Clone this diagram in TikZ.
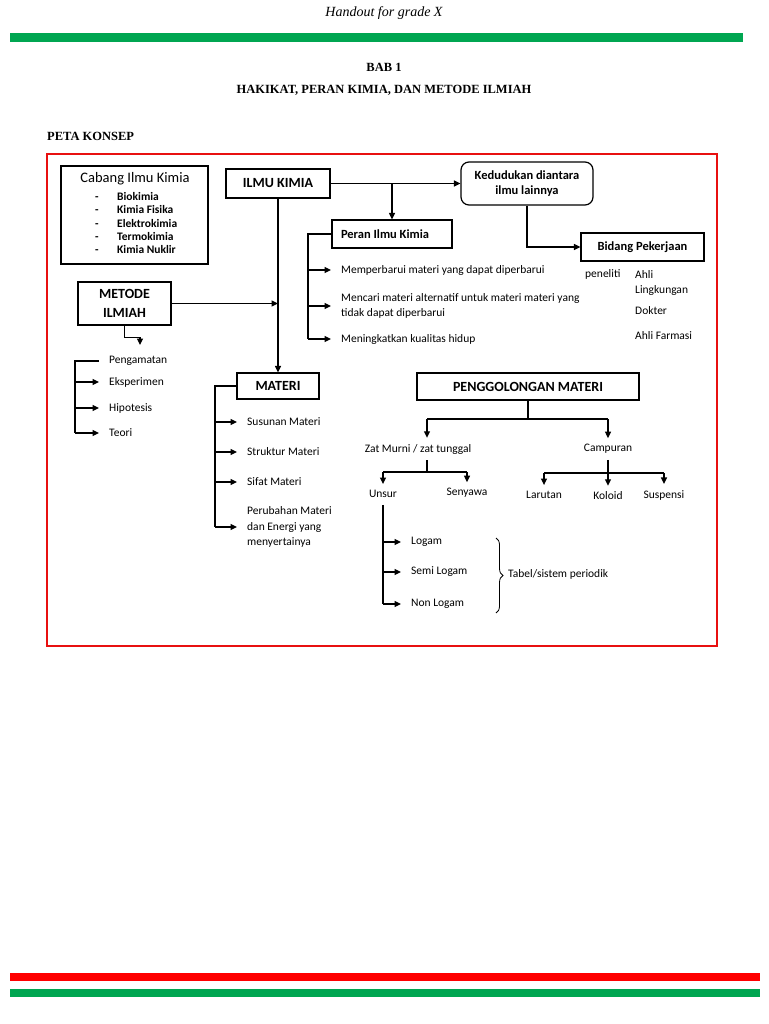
\documentclass[tikz,border=0pt]{standalone}
\usepackage{fontspec}
\setmainfont{Carlito}
\newfontfamily\headfont{Liberation Serif}
\usepackage{tikz}
\usetikzlibrary{arrows.meta, positioning, calc, decorations.pathreplacing}
\definecolor{barred}{RGB}{255,0,0}
\definecolor{bargreen}{RGB}{0,166,81}
\definecolor{framered}{RGB}{232,16,16}

\begin{document}
\begin{tikzpicture}[
    x=1pt, y=-1pt,
    box/.style={draw, line width=1.2pt, inner sep=0pt, font=\bfseries\fontsize{14}{19}\selectfont, align=center},
    subbox/.style={draw, line width=1.2pt, inner sep=0pt, font=\bfseries\fontsize{12.5}{15}\selectfont, align=center},
    item/.style={anchor=west, inner xsep=10pt, inner ysep=1pt, font=\fontsize{11.5}{15.5}\selectfont, align=left},
    txt/.style={inner sep=1pt, font=\fontsize{11.5}{15.5}\selectfont, align=left},
    head/.style={font=\headfont\bfseries\fontsize{12.5}{15}\selectfont},
    flow/.style={-{Triangle[length=6.5pt, width=6pt]}, line width=1.2pt},
    drop/.style={flow, shorten >=5pt},
    link/.style={line width=1.2pt}
]
    \useasboundingbox (0,0) rectangle (768,1024);

    % Page header
    \node[font=\headfont\itshape\fontsize{14}{16}\selectfont] (handout) at (384,13) {Handout for grade X};
    \fill[bargreen] (10,33) rectangle (743,42);
    \node[head] (bab) at (384,67) {BAB 1};
    \node[head] (judul) at (384,90) {HAKIKAT, PERAN KIMIA, DAN METODE ILMIAH};
    \node[head, anchor=west, inner sep=0pt] (peta) at (47,136) {PETA KONSEP};
    \draw[framered, line width=2.5pt] (47,154) rectangle (717,646);

    % Cabang ilmu kimia
    \node[draw, line width=1.2pt, minimum width=147pt, minimum height=98pt] (cabang) at (134.5,215) {};
    \node[txt, font=\fontsize{14.5}{16}\selectfont] (cabangjudul) at (135,179) {Cabang Ilmu Kimia};
    \foreach \nama [count=\i] in {Biokimia, Kimia Fisika, Elektrokimia, Termokimia, Kimia Nuklir} {
        \node[txt, anchor=base, font=\bfseries\fontsize{11.5}{13}\selectfont] (strip\i) at (97,187.5+13.25*\i) {-};
        \node[txt, anchor=base west, font=\bfseries\fontsize{11.5}{13}\selectfont] (cabang\i) at (116,187.5+13.25*\i) {\nama};
    }

    % Ilmu kimia dan kedudukannya
    \node[box, minimum width=104pt, minimum height=29pt] (ilmu) at (278,183.5) {ILMU KIMIA};
    \node[subbox, rounded corners=8pt, minimum width=132pt, minimum height=43pt] (kedudukan) at (527,183.5) {Kedudukan diantara\\ilmu lainnya};
    \node[subbox, minimum height=28pt, text width=102pt, inner xsep=9pt, align=flush left] (peran) at (392,234) {Peran Ilmu Kimia};
    \node[subbox, minimum width=123pt, minimum height=28pt] (bidang) at (642.5,247) {Bidang Pekerjaan};

    \draw[flow] (ilmu.east) -- (kedudukan.west);
    \draw[flow] (ilmu.east -| peran.north) -- (peran.north);
    \draw[flow] (kedudukan.south) |- (bidang.west);

    % Bidang pekerjaan
    \node[txt, anchor=west] (peneliti) at (584,274) {peneliti};
    \node[txt, anchor=west] (lingkungan) at (634,283) {Ahli\\Lingkungan};
    \node[txt, anchor=west] (dokter) at (634,311) {Dokter};
    \node[txt, anchor=west] (farmasi) at (634,336) {Ahli Farmasi};

    % Peran ilmu kimia
    \coordinate (peranbus) at (308,234);
    \node[item] (perbarui) at (331,270) {Memperbarui materi yang dapat diperbarui};
    \node[item] (alternatif) at (331,306) {Mencari materi alternatif untuk materi materi yang\\tidak dapat diperbarui};
    \node[item] (kualitas) at (331,339) {Meningkatkan kualitas hidup};
    \draw[link] (peran.west) -- (peranbus) -- (peranbus |- kualitas.west);
    \foreach \n in {perbarui, alternatif, kualitas}
        \draw[flow] (peranbus |- \n.west) -- (\n.west);

    % Metode ilmiah
    \node[box, minimum width=93pt, minimum height=43pt] (metode) at (124.5,303.5) {METODE\\ILMIAH};
    \coordinate (langkah) at (140,345);
    \draw[flow] (metode.east) -- (metode.east -| ilmu.south);
    \draw[flow] (metode.south) -- ++(0,12) -| (langkah);

    \coordinate (metodebus) at (75,361);
    \node[item] (pengamatan) at (99,361) {Pengamatan};
    \node[item] (eksperimen) at (99,382) {Eksperimen};
    \node[item] (hipotesis) at (99,408) {Hipotesis};
    \node[item] (teori) at (99,433) {Teori};
    \draw[link] (pengamatan.west) -- (metodebus) -- (metodebus |- teori.west);
    \foreach \n in {eksperimen, hipotesis, teori}
        \draw[flow] (metodebus |- \n.west) -- (\n.west);

    % Materi
    \node[box, minimum width=82pt, minimum height=26pt] (materi) at (278,386) {MATERI};
    \draw[flow] (ilmu.south) -- (materi.north);

    \coordinate (materibus) at (215,386);
    \node[item] (susunan) at (237,422) {Susunan Materi};
    \node[item] (struktur) at (237,452) {Struktur Materi};
    \node[item] (sifat) at (237,482) {Sifat Materi};
    \node[item] (perubahan) at (237,527) {Perubahan Materi\\dan Energi yang\\menyertainya};
    \draw[link] (materi.west) -- (materibus) -- (materibus |- perubahan.west);
    \foreach \n in {susunan, struktur, sifat, perubahan}
        \draw[flow] (materibus |- \n.west) -- (\n.west);

    % Penggolongan materi
    \node[box, minimum width=222pt, minimum height=27pt] (golongan) at (528,386.5) {PENGGOLONGAN MATERI};
    \node[txt] (zatmurni) at (418,449) {Zat Murni / zat tunggal};
    \node[txt] (campuran) at (608,449) {Campuran};
    \coordinate (golkiri) at (427,419);
    \coordinate (golkanan) at (608,419);
    \draw[link] (golongan.south) -- (golongan.south |- golkiri);
    \draw[link] (golkiri) -- (golkanan);
    \draw[drop] (golkiri) -- (golkiri |- zatmurni.north);
    \draw[drop] (golkanan) -- (campuran.north);

    % Zat murni
    \node[txt] (unsur) at (383,494) {Unsur};
    \node[txt] (senyawa) at (467,493) {Senyawa};
    \coordinate (zatbar) at (427,472);
    \draw[link, shorten <=5pt] (golkiri |- zatmurni.south) -- (zatbar);
    \draw[link] (unsur.north |- zatbar) -- (senyawa.north |- zatbar);
    \draw[drop] (unsur.north |- zatbar) -- (unsur.north);
    \draw[drop] (senyawa.north |- zatbar) -- (senyawa.north);

    % Campuran
    \node[txt] (larutan) at (544,495) {Larutan};
    \node[txt] (koloid) at (608,496) {Koloid};
    \node[txt] (suspensi) at (664,495) {Suspensi};
    \coordinate (campbar) at (608,473);
    \draw[link, shorten <=5pt] (campuran.south) -- (campbar);
    \draw[link] (larutan.north |- campbar) -- (suspensi.north |- campbar);
    \foreach \n in {larutan, koloid, suspensi}
        \draw[drop] (\n.north |- campbar) -- (\n.north);

    % Unsur
    \node[item] (logam) at (401,542) {Logam};
    \node[item] (semilogam) at (401,572) {Semi Logam};
    \node[item] (nonlogam) at (401,604) {Non Logam};
    \draw[link, shorten <=6pt] (unsur.south) -- (unsur.south |- nonlogam.west);
    \foreach \n in {logam, semilogam, nonlogam}
        \draw[flow] (unsur.south |- \n.west) -- (\n.west);

    \coordinate (kurungatas) at (496,538);
    \coordinate (kurungbawah) at (496,613);
    \draw[decorate, decoration={brace, amplitude=7pt}, line width=0.8pt] (kurungatas) -- (kurungbawah);
    \node[txt, anchor=west] (tabel) at (507,574) {Tabel/sistem periodik};

    % Page footer
    \fill[barred] (10,973) rectangle (760,981);
    \fill[bargreen] (10,989) rectangle (760,997);
\end{tikzpicture}
\end{document}
